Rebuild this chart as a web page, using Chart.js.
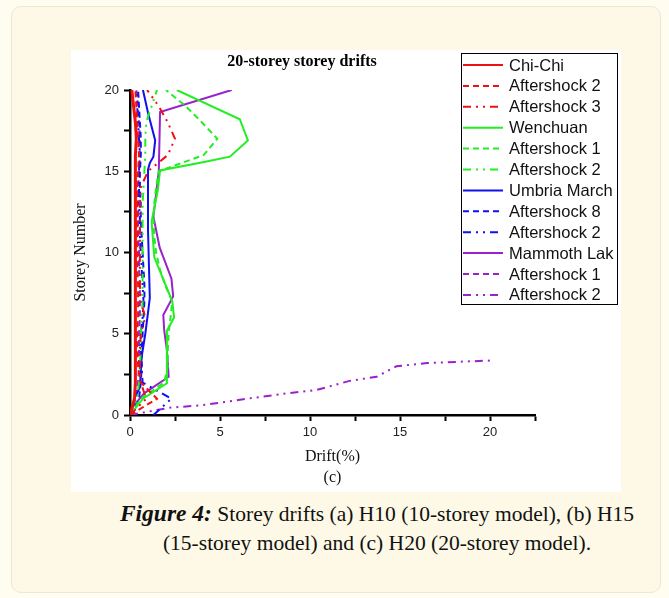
<!DOCTYPE html>
<html lang="en">
<head>
<meta charset="UTF-8" />
<title>20-storey storey drifts</title>
<script src="https://cdn.jsdelivr.net/npm/chart.js"></script>
<style>
  body { margin: 0; background: #fffdf0; width: 669px; height: 598px; overflow: hidden; }
  .card { position: absolute; left: 11px; top: 6px; width: 648px; height: 585px;
          background: #fdf9e6; border: 1px solid #eee8d2; border-radius: 10px; }
  .figure { position: absolute; left: 71px; top: 50px; width: 550px; height: 442px; background: #fff; }
  .caption { position: absolute; left: 57px; top: 499px; width: 640px; text-align: center;
             font-family: "Liberation Serif", serif; font-size: 21.5px; line-height: 29px; color: #111; }
  .caption b { font-size: 23.5px; }
</style>
</head>
<body>
<div class="card"></div>
<div class="figure"><canvas id="drifts"></canvas></div>
<div class="caption"><b><i>Figure 4:</i></b> Storey drifts (a) H10 (10-storey model), (b) H15<br>(15-storey model) and (c) H20 (20-storey model).</div>

<script>
// storey levels shared by most series
const storeys = [0, 1, 2, 3, 4, 5, 6, 7, 8, 9, 10, 11, 12, 13, 14, 15, 16, 17, 18, 19, 20];

// drift (%) per storey
const chiChi    = [0, 0.25, 0.3, 0.3, 0.3, 0.3, 0.3, 0.3, 0.3, 0.3, 0.3, 0.3, 0.3, 0.3, 0.3, 0.3, 0.3, 0.35, 0.3, 0.2, 0.1];
const chiChiAs2 = [0, 1.5, 0.6, 0.45, 0.4, 0.4, 0.45, 0.45, 0.45, 0.4, 0.4, 0.4, 0.4, 0.4, 0.4, 0.45, 0.5, 0.45, 0.4, 0.35, 0.3];
const chiChiAs3 = [0, 0.9, 0.6, 0.55, 0.55, 0.6, 0.85, 0.6, 0.55, 0.55, 0.55, 0.55, 0.55, 0.55, 0.6, 1.0, 2.1, 2.5, 2.1, 1.6, 0.95];

const wenchuanY = [0, 1.0, 1.95, 3.6, 5.2, 6.0, 7.0, 9.7, 11.9, 13.85, 15.05, 15.55, 15.9, 16.9, 18.2, 20];
const wenchuan  = [0, 0.72, 2.05, 2.05, 2.05, 2.45, 2.35, 1.35, 1.2, 1.55, 1.67, 4.05, 5.55, 6.55, 6.1, 2.6];
const wenchuanAs1 = [0, 0.6, 1.9, 2.1, 2.1, 2.15, 2.25, 2.35, 1.95, 1.65, 1.45, 1.35, 1.3, 1.35, 1.45, 1.6, 4.1, 4.85, 4.0, 3.1, 2.0];
const wenchuanAs2 = [0, 0.4, 0.5, 0.55, 0.6, 0.6, 0.65, 0.7, 0.7, 0.7, 0.7, 0.7, 0.7, 0.7, 0.75, 0.8, 0.85, 0.85, 0.9, 1.2, 1.5];

const umbriaY = [0, 1.1, 1.7, 3.6, 5.0, 6.3, 7.2, 11.4, 15.1, 15.5, 15.9, 16.9, 18.6, 20];
const umbria  = [0, 0.28, 0.55, 0.65, 0.85, 1.0, 1.1, 1.0, 1.0, 1.1, 1.3, 1.4, 1.0, 0.72];
const umbriaAs8 = [0, 0.5, 0.6, 0.65, 0.65, 0.7, 0.75, 0.8, 0.8, 0.75, 0.7, 0.65, 0.6, 0.6, 0.55, 0.55, 0.6, 0.6, 0.55, 0.5, 0.45];
const umbriaAs2 = [1.3, 2.3, 0.7, 0.65, 0.6, 0.6, 0.7, 0.75, 0.7, 0.65, 0.6, 0.55, 0.55, 0.5, 0.5, 0.5, 0.55, 0.5, 0.45, 0.4, 0.35];

const mammothY = [0, 0.5, 1.35, 2.35, 4.0, 5.2, 6.15, 7.3, 8.4, 10.3, 12.2, 15.0, 18.65, 20];
const mammoth  = [0, 0.15, 0.8, 2.15, 2.05, 1.9, 1.85, 2.4, 2.3, 1.65, 1.3, 1.6, 1.67, 5.65];
const mammothAs1 = [0, 0.3, 0.45, 0.5, 0.5, 0.5, 0.55, 0.55, 0.55, 0.5, 0.5, 0.45, 0.45, 0.45, 0.45, 0.5, 0.55, 0.55, 0.5, 0.45, 0.35];
const mammothAs2Y = [0, 0.45, 0.6, 1.0, 1.3, 1.55, 2.1, 2.35, 3.0, 3.2, 3.35];
const mammothAs2  = [0, 2.2, 4.0, 6.5, 8.5, 10.4, 12.2, 13.7, 14.8, 16.5, 20];

const xTicks = [0, 5, 10, 15, 20];
const yTicks = [0, 5, 10, 15, 20];

const RED = '#ee1111', GREEN = '#22ee22', BLUE = '#1111ee', PURPLE = '#9922cc';
const DASH = [6, 4];
const DASHDOT = [8, 5, 2, 5, 2, 5];

function series(label, xs, ys, color, dash, width) {
  return {
    label: label,
    data: xs.map((x, i) => ({ x: x, y: ys[i] })),
    showLine: true,
    borderColor: color,
    backgroundColor: color,
    borderDash: dash,
    borderWidth: width || 2,
    pointRadius: 0,
    tension: 0
  };
}

const datasets = [
  series('Chi-Chi', chiChi, storeys, RED, [], 3),
  series('Aftershock 2', chiChiAs2, storeys, RED, DASH),
  series('Aftershock 3', chiChiAs3, storeys, RED, DASHDOT),
  series('Wenchuan', wenchuan, wenchuanY, GREEN, []),
  series('Aftershock 1', wenchuanAs1, storeys, GREEN, DASH),
  series('Aftershock 2', wenchuanAs2, storeys, GREEN, DASHDOT),
  series('Umbria March', umbria, umbriaY, BLUE, []),
  series('Aftershock 8', umbriaAs8, storeys, BLUE, DASH),
  series('Aftershock 2', umbriaAs2, storeys, BLUE, DASHDOT),
  series('Mammoth Lak', mammoth, mammothY, PURPLE, []),
  series('Aftershock 1', mammothAs1, storeys, PURPLE, DASH),
  series('Aftershock 2', mammothAs2, mammothAs2Y, PURPLE, DASHDOT)
];

// title and boxed legend drawn on top of the plot
const overlay = {
  id: 'overlay',
  afterDraw(chart) {
    const ctx = chart.ctx;
    ctx.save();
    ctx.fillStyle = '#000';
    ctx.font = 'bold 16px "Liberation Serif", serif';
    ctx.textAlign = 'center';
    ctx.textBaseline = 'middle';
    ctx.fillText('20-storey storey drifts', 231, 12);

    const bx = 390.5, by = 3.5, bw = 156, bh = 251, row = 20.9;
    ctx.fillStyle = '#fff';
    ctx.fillRect(bx, by, bw, bh);
    ctx.strokeStyle = '#000';
    ctx.lineWidth = 1;
    ctx.setLineDash([]);
    ctx.strokeRect(bx, by, bw, bh);
    ctx.font = '16.5px "Liberation Sans", Arial, sans-serif';
    ctx.textAlign = 'left';
    chart.data.datasets.forEach((ds, i) => {
      const y = 15 + i * row;
      ctx.strokeStyle = ds.borderColor;
      ctx.lineWidth = 2;
      ctx.setLineDash(ds.borderDash);
      ctx.beginPath();
      ctx.moveTo(392, y);
      ctx.lineTo(432, y);
      ctx.stroke();
      ctx.fillStyle = '#111';
      ctx.fillText(ds.label, 438, y + 1);
    });
    ctx.restore();
  }
};

const tickFont = { family: '"Liberation Sans", Arial, sans-serif', size: 13 };
const titleFont = { family: '"Liberation Serif", serif', size: 16 };

new Chart(document.getElementById('drifts'), {
  type: 'scatter',
  data: { datasets: datasets },
  plugins: [overlay],
  options: {
    responsive: true,
    maintainAspectRatio: false,
    animation: false,
    layout: { padding: { left: 0, top: 40, right: 86, bottom: 0 } },
    plugins: { legend: { display: false }, tooltip: { enabled: false } },
    scales: {
      x: {
        type: 'linear', min: 0, max: 22.5,
        afterFit: s => { s.height = 77; },
        ticks: { stepSize: 2.5, padding: 4, color: '#222', font: tickFont,
                 callback: v => xTicks.includes(v) ? String(v) : '' },
        grid: { drawOnChartArea: false, drawTicks: true, tickLength: 6, tickWidth: 2, tickColor: '#000' },
        border: { display: true, color: '#000', width: 2.5 },
        title: { display: true, text: ['Drift(%)', '(c)'], color: '#111',
                 font: Object.assign({ lineHeight: 1.3125 }, titleFont), padding: { top: 0, bottom: 3.5 } }
      },
      y: {
        type: 'linear', min: 0, max: 20,
        afterFit: s => { s.width = 59; },
        ticks: { stepSize: 2.5, padding: 5, color: '#222', font: tickFont,
                 callback: v => yTicks.includes(v) ? String(v) : '' },
        grid: { drawOnChartArea: false, drawTicks: true, tickLength: 6, tickWidth: 2, tickColor: '#000' },
        border: { display: true, color: '#000', width: 2.5 },
        title: { display: true, text: 'Storey Number', color: '#111', font: titleFont, padding: { top: 0, bottom: 0 } }
      }
    }
  }
});
</script>
</body>
</html>
